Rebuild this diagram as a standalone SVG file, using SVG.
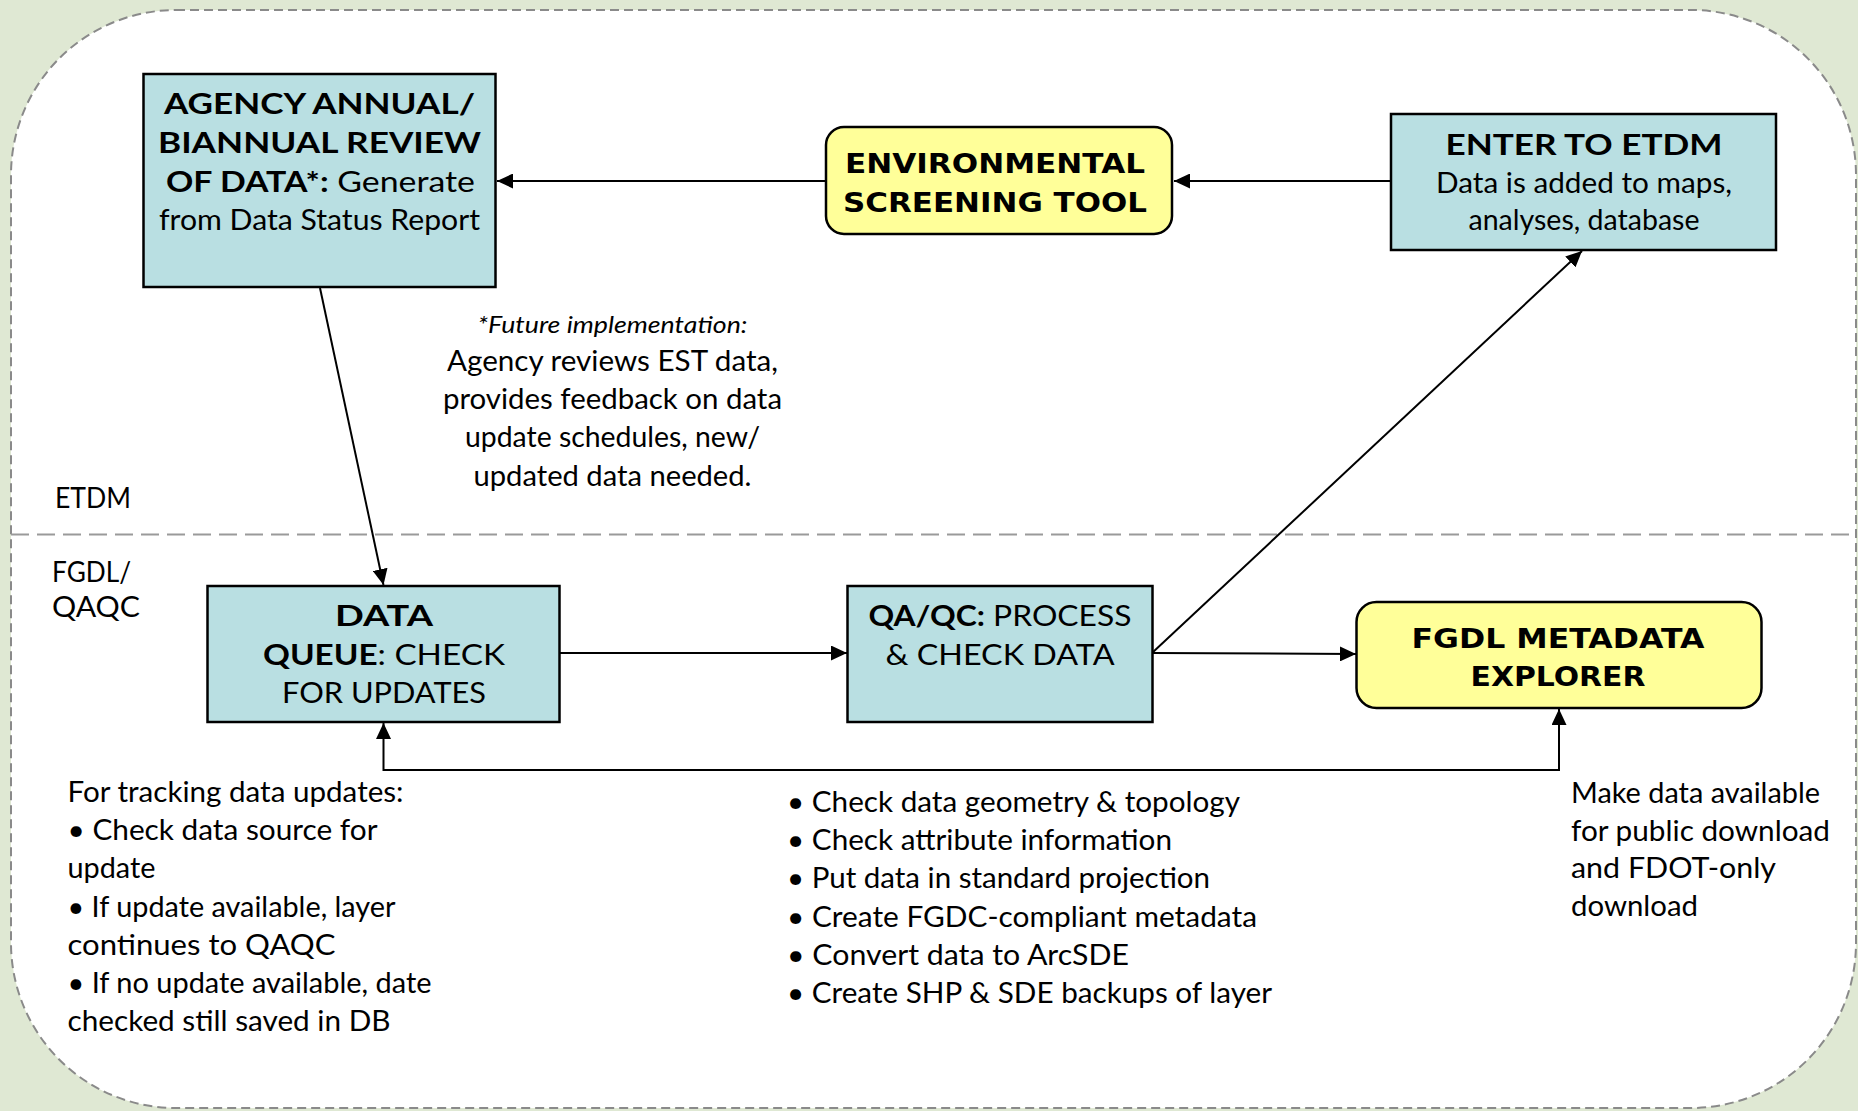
<svg xmlns="http://www.w3.org/2000/svg" width="1858" height="1111" viewBox="0 0 1858 1111">
  <style>
    .box { fill: #b9dfe2; stroke: #000; stroke-width: 2.5; }
    .ybox { fill: #ffff99; stroke: #000; stroke-width: 2.5; }
    .t { font-family: Lato, "Open Sans", sans-serif; font-size: 28px; fill: #000; }
    .c { text-anchor: middle; }
    .b { font-weight: bold; }
    .n { font-weight: normal; }
    .y { font-family: "DejaVu Sans", Verdana, sans-serif; font-size: 27px; font-weight: bold; fill: #000; text-anchor: middle; }
    .it { font-style: italic; font-size: 24px; }
    .conn { fill: none; stroke: #000; stroke-width: 2; }
  </style>
  <defs>
    <marker id="arr" viewBox="0 0 16 15" refX="16" refY="7.5" markerWidth="16" markerHeight="15" markerUnits="userSpaceOnUse" orient="auto-start-reverse">
      <path d="M0,0 L16,7.5 L0,15 z" fill="#000"/>
    </marker>
  </defs>

  <!-- background -->
  <rect x="0" y="0" width="1858" height="1111" fill="#dfe8d3"/>
  <rect x="11" y="10" width="1845" height="1098" rx="165" ry="165" fill="#ffffff" stroke="#8a8a8a" stroke-width="2" stroke-dasharray="9 5"/>
  <line x1="11" y1="534.5" x2="1856" y2="534.5" stroke="#9a9a9a" stroke-width="2" stroke-dasharray="18 8"/>

  <!-- lane labels -->
  <g id="lane-labels">
    <text class="t" x="55" y="508" textLength="76" lengthAdjust="spacingAndGlyphs">ETDM</text>
    <text class="t" x="52" y="582" textLength="79" lengthAdjust="spacingAndGlyphs">FGDL/</text>
    <text class="t" x="52" y="617" textLength="88" lengthAdjust="spacingAndGlyphs">QAQC</text>
  </g>

  <!-- connectors -->
  <g id="connectors">
    <path class="conn" d="M826,181 H497" marker-end="url(#arr)"/>
    <path class="conn" d="M1391,181 H1174" marker-end="url(#arr)"/>
    <path class="conn" d="M320,288 L383.5,585" marker-end="url(#arr)"/>
    <path class="conn" d="M560,653 H847" marker-end="url(#arr)"/>
    <path class="conn" d="M1152,653 L1356,654" marker-end="url(#arr)"/>
    <path class="conn" d="M1152,653 L1582,251" marker-end="url(#arr)"/>
    <path class="conn" d="M383.5,723 V770 H1559 V709" marker-start="url(#arr)" marker-end="url(#arr)"/>
  </g>

  <!-- nodes -->
  <g id="agency-review">
    <rect class="box" x="143.5" y="74" width="352" height="213"/>
    <text class="t c b" x="319.5" y="114" textLength="311" lengthAdjust="spacingAndGlyphs">AGENCY ANNUAL/</text>
    <text class="t c b" x="319.5" y="153" textLength="323" lengthAdjust="spacingAndGlyphs">BIANNUAL REVIEW</text>
    <text class="t c" x="320.5" y="192" textLength="309" lengthAdjust="spacingAndGlyphs"><tspan class="b">OF DATA*:</tspan> Generate</text>
    <text class="t c" x="319.5" y="230" textLength="321" lengthAdjust="spacingAndGlyphs">from Data Status Report</text>
  </g>

  <g id="environmental-screening-tool">
    <rect class="ybox" x="826" y="127" width="346" height="107" rx="18" ry="18"/>
    <text class="y" x="995" y="173" textLength="300" lengthAdjust="spacingAndGlyphs">ENVIRONMENTAL</text>
    <text class="y" x="995" y="212" textLength="304" lengthAdjust="spacingAndGlyphs">SCREENING TOOL</text>
  </g>

  <g id="enter-to-etdm">
    <rect class="box" x="1391" y="114" width="385" height="136"/>
    <text class="t c b" x="1584" y="155" textLength="277" lengthAdjust="spacingAndGlyphs">ENTER TO ETDM</text>
    <text class="t c" x="1584" y="193" textLength="296" lengthAdjust="spacingAndGlyphs">Data is added to maps,</text>
    <text class="t c" x="1584" y="230" textLength="231" lengthAdjust="spacingAndGlyphs">analyses, database</text>
  </g>

  <g id="data-queue">
    <rect class="box" x="207.5" y="586" width="352" height="136"/>
    <text class="t c b" x="384" y="626" textLength="98" lengthAdjust="spacingAndGlyphs">DATA</text>
    <text class="t c" x="384" y="665" textLength="242" lengthAdjust="spacingAndGlyphs"><tspan class="b">QUEUE</tspan>: CHECK</text>
    <text class="t c" x="384" y="703" textLength="204" lengthAdjust="spacingAndGlyphs">FOR UPDATES</text>
  </g>

  <g id="qa-qc">
    <rect class="box" x="847.5" y="586" width="305" height="136"/>
    <text class="t c" x="1000" y="626" textLength="263" lengthAdjust="spacingAndGlyphs"><tspan class="b">QA/QC:</tspan> PROCESS</text>
    <text class="t c" x="1000" y="665" textLength="229" lengthAdjust="spacingAndGlyphs">&amp; CHECK DATA</text>
  </g>

  <g id="fgdl-metadata-explorer">
    <rect class="ybox" x="1356.5" y="602" width="405" height="106" rx="20" ry="20"/>
    <text class="y" x="1558" y="648" textLength="293" lengthAdjust="spacingAndGlyphs">FGDL METADATA</text>
    <text class="y" x="1558" y="686" textLength="175" lengthAdjust="spacingAndGlyphs">EXPLORER</text>
  </g>

  <!-- annotations -->
  <g id="future-note">
    <text class="t c it" x="612.5" y="333" textLength="270" lengthAdjust="spacingAndGlyphs">*Future implementation:</text>
    <text class="t c" x="612.5" y="371" textLength="331" lengthAdjust="spacingAndGlyphs">Agency reviews EST data,</text>
    <text class="t c" x="612.5" y="409" textLength="339" lengthAdjust="spacingAndGlyphs">provides feedback on data</text>
    <text class="t c" x="612.5" y="447" textLength="295" lengthAdjust="spacingAndGlyphs">update schedules, new/</text>
    <text class="t c" x="612.5" y="485.5" textLength="278" lengthAdjust="spacingAndGlyphs">updated data needed.</text>
  </g>

  <g id="tracking-note">
    <text class="t" x="67.5" y="802" textLength="336" lengthAdjust="spacingAndGlyphs">For tracking data updates:</text>
    <text class="t" x="67.5" y="840" textLength="310" lengthAdjust="spacingAndGlyphs">• Check data source for</text>
    <text class="t" x="67.5" y="878" textLength="88" lengthAdjust="spacingAndGlyphs">update</text>
    <text class="t" x="67.5" y="916.5" textLength="328" lengthAdjust="spacingAndGlyphs">• If update available, layer</text>
    <text class="t" x="67.5" y="955" textLength="268" lengthAdjust="spacingAndGlyphs">continues to QAQC</text>
    <text class="t" x="67.5" y="993" textLength="364" lengthAdjust="spacingAndGlyphs">• If no update available, date</text>
    <text class="t" x="67.5" y="1031" textLength="323" lengthAdjust="spacingAndGlyphs">checked still saved in DB</text>
  </g>

  <g id="qaqc-steps">
    <text class="t" x="787" y="811.5" textLength="453" lengthAdjust="spacingAndGlyphs">• Check data geometry &amp; topology</text>
    <text class="t" x="787" y="850" textLength="385" lengthAdjust="spacingAndGlyphs">• Check attribute information</text>
    <text class="t" x="787" y="888" textLength="423" lengthAdjust="spacingAndGlyphs">• Put data in standard projection</text>
    <text class="t" x="787" y="926.5" textLength="470" lengthAdjust="spacingAndGlyphs">• Create FGDC-compliant metadata</text>
    <text class="t" x="787" y="965" textLength="342" lengthAdjust="spacingAndGlyphs">• Convert data to ArcSDE</text>
    <text class="t" x="787" y="1003" textLength="485" lengthAdjust="spacingAndGlyphs">• Create SHP &amp; SDE backups of layer</text>
  </g>

  <g id="publish-note">
    <text class="t" x="1571" y="803" textLength="249" lengthAdjust="spacingAndGlyphs">Make data available</text>
    <text class="t" x="1571" y="840.5" textLength="259" lengthAdjust="spacingAndGlyphs">for public download</text>
    <text class="t" x="1571" y="878" textLength="205" lengthAdjust="spacingAndGlyphs">and FDOT-only</text>
    <text class="t" x="1571" y="915.5" textLength="127" lengthAdjust="spacingAndGlyphs">download</text>
  </g>
</svg>
